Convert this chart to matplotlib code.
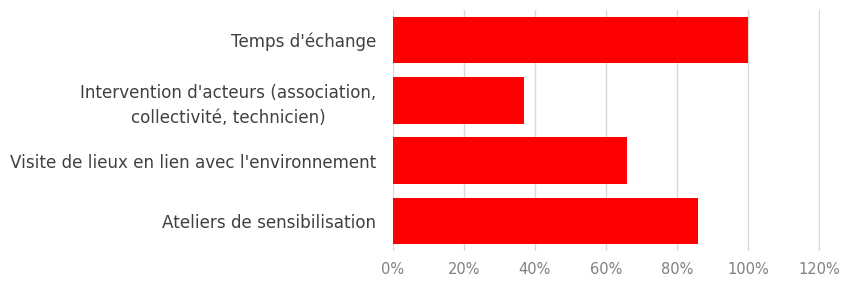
import matplotlib as mpl
mpl.use('Agg')
import matplotlib.pyplot as plt
from matplotlib.ticker import FuncFormatter

# données (du haut vers le bas)
categories = ["Temps d'échange",
              "Intervention d'acteurs (association,\ncollectivité, technicien)",
              "Visite de lieux en lien avec l'environnement",
              "Ateliers de sensibilisation"]
valeurs = [1.00, 0.37, 0.66, 0.86]
graduations = [0, 0.2, 0.4, 0.6, 0.8, 1.0, 1.2]

plt.rcParams['font.family'] = ['DejaVu Sans']

fig = plt.figure(figsize=(8.44, 2.87), dpi=100)
ax = fig.add_axes([0.4656, 0.1254, 0.5060, 0.8398])

pos = list(range(len(categories)))
ax.barh(pos, valeurs, height=0.77, color='#ff0000', zorder=3)
ax.set_ylim(len(categories) - 0.5, -0.5)
ax.set_xlim(0, 1.203)
ax.set_xticks(graduations)
ax.xaxis.set_major_formatter(FuncFormatter(lambda v, p: f"{v*100:.0f}%"))
ax.set_yticks(pos)
ax.set_yticklabels(categories, fontsize=12.1, color='#404040', linespacing=1.45)
for lab in ax.get_yticklabels():
    lab.set_multialignment('center')
ax.tick_params(axis='y', length=0, pad=12)
ax.tick_params(axis='x', length=0, pad=8, labelsize=10.5, labelcolor='#808080')
ax.grid(axis='x', color='#d9d9d9', linewidth=1, zorder=0)
for s in ax.spines.values():
    s.set_visible(False)

plt.savefig('out.png', dpi=100)
